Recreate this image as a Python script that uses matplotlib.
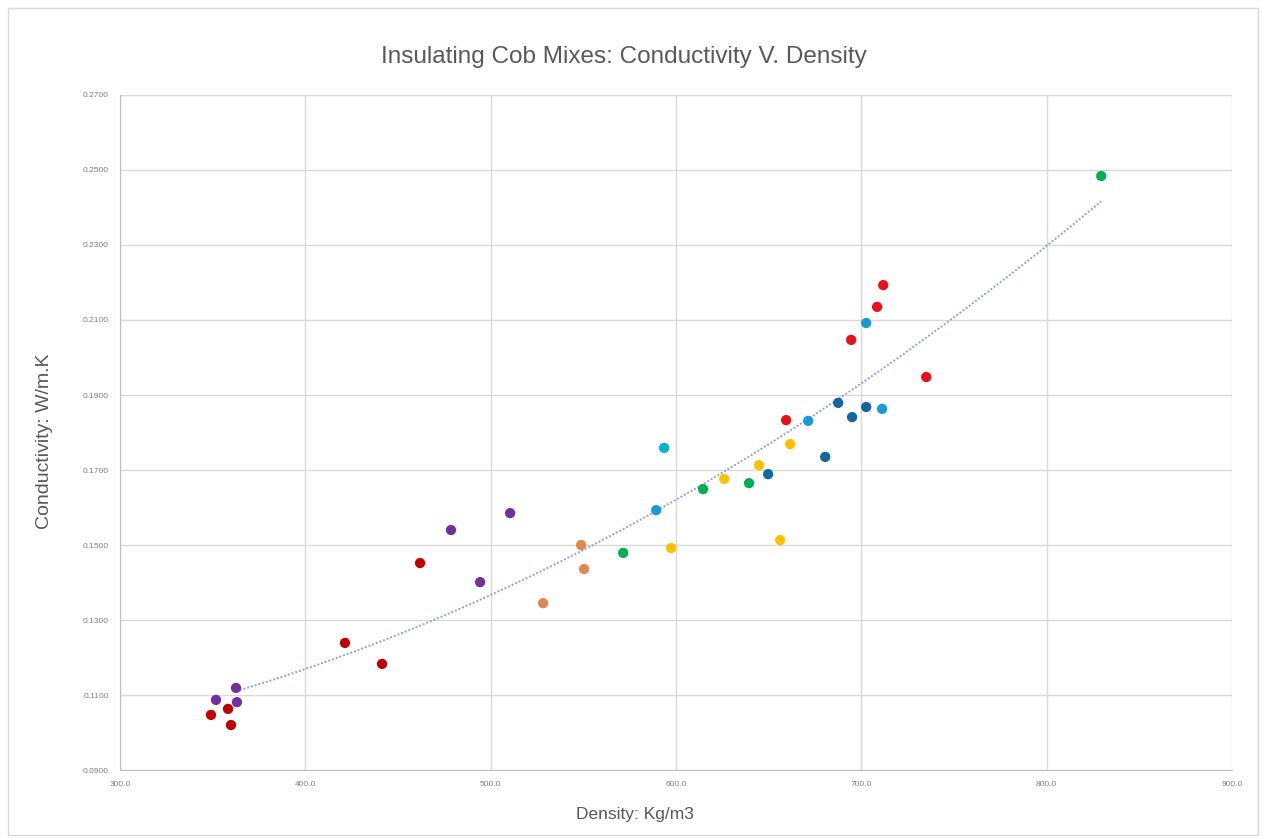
import numpy as np
import matplotlib
matplotlib.use("Agg")
import matplotlib.pyplot as plt
from matplotlib.patches import Rectangle

# density (kg/m3) and conductivity (W/m.K) per mix group
dark_red_x = [349.1, 358.3, 359.9, 421.4, 441.4, 461.9]
dark_red_y = [0.1047, 0.1063, 0.1020, 0.1239, 0.1183, 0.1452]

purple_x = [351.8, 362.6, 363.1, 478.6, 494.3, 510.5]
purple_y = [0.1087, 0.1119, 0.1081, 0.1540, 0.1401, 0.1585]

orange_x = [528.3, 548.8, 550.4]
orange_y = [0.1345, 0.1500, 0.1436]

green_x = [571.5, 614.6, 639.4, 829.4]
green_y = [0.1479, 0.1649, 0.1665, 0.2484]

yellow_x = [597.4, 626.0, 644.8, 656.2, 661.6]
yellow_y = [0.1492, 0.1676, 0.1713, 0.1513, 0.1769]

cyan_x = [593.6]
cyan_y = [0.1759]

light_blue_x = [589.3, 671.3, 702.6, 711.2]
light_blue_y = [0.1593, 0.1831, 0.2092, 0.1863]

dark_blue_x = [649.7, 680.5, 687.5, 695.0, 702.6]
dark_blue_y = [0.1689, 0.1735, 0.1879, 0.1841, 0.1868]

red_x = [659.4, 694.5, 708.5, 711.8, 735.0]
red_y = [0.1833, 0.2047, 0.2135, 0.2193, 0.1948]

groups = [
    (dark_red_x, dark_red_y, "#C00000"),
    (purple_x, purple_y, "#7030A0"),
    (orange_x, orange_y, "#E0884E"),
    (green_x, green_y, "#00B050"),
    (yellow_x, yellow_y, "#FFC000"),
    (cyan_x, cyan_y, "#00B4CC"),
    (light_blue_x, light_blue_y, "#1A9BD7"),
    (dark_blue_x, dark_blue_y, "#12679F"),
    (red_x, red_y, "#E8111B"),
]

x_ticks = [300, 400, 500, 600, 700, 800, 900]
y_ticks = [0.09, 0.11, 0.13, 0.15, 0.17, 0.19, 0.21, 0.23, 0.25, 0.27]

plt.rcParams['font.family'] = ['Liberation Sans', 'DejaVu Sans']

fig = plt.figure(figsize=(12.63, 8.39), dpi=100)
ax = fig.add_axes([0.0950, 0.0822, 0.8805, 0.8046])

# trendline (2nd order polynomial fit over all points)
all_x = np.concatenate([np.array(g[0]) for g in groups])
all_y = np.concatenate([np.array(g[1]) for g in groups])
coef = np.polyfit(all_x, all_y, 2)
tx = np.linspace(purple_x[1], all_x.max(), 200)
ax.plot(tx, np.polyval(coef, tx), linestyle=(0, (1, 1)), color="#8FA3D6",
        linewidth=1.4, zorder=2)

for gx, gy, col in groups:
    ax.scatter(gx, gy, s=55, color=col, edgecolors="none", zorder=3)

ax.set_xlim(300, 900)
ax.set_ylim(0.09, 0.27)
ax.set_xticks(x_ticks)
ax.set_yticks(y_ticks)
ax.set_xticklabels(["%.1f" % v for v in x_ticks])
ax.set_yticklabels(["%.4f" % v for v in y_ticks])
ax.tick_params(axis="both", length=0, labelsize=6, colors="#7F7F7F", pad=8)
ax.grid(True, color="#D9D9D9", linewidth=1)
ax.set_axisbelow(True)
for side in ["top", "right"]:
    ax.spines[side].set_visible(False)
for side in ["left", "bottom"]:
    ax.spines[side].set_color("#BFBFBF")

fig.text(0.494, 0.932, "Insulating Cob Mixes: Conductivity V. Density", fontsize=17.5,
         color="#595959", ha="center", va="center")
ax.set_xlabel("Density: Kg/m3", fontsize=12.5, color="#595959")
ax.xaxis.set_label_coords(0.463, -0.055)
ax.set_ylabel("Conductivity: W/m.K", fontsize=14, color="#595959")
ax.yaxis.set_label_coords(-0.060, 0.487)

fig.patches.append(Rectangle((8 / 1263, 4 / 839), 1250 / 1263, 827 / 839,
                             transform=fig.transFigure, fill=False,
                             edgecolor="#D9D9D9", linewidth=1))

fig.savefig("out.png", dpi=100)
